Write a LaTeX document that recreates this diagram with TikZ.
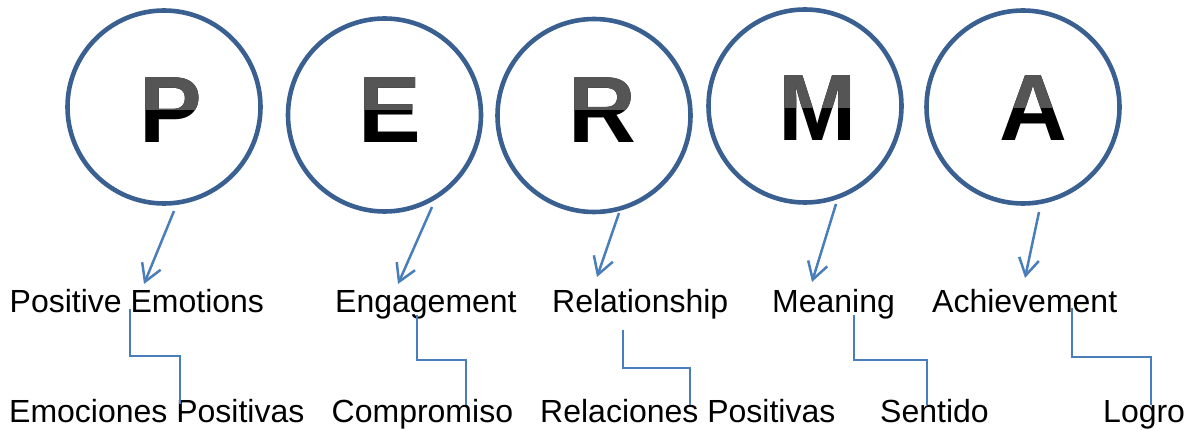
\documentclass[tikz,border=0pt]{standalone}
\usepackage{fontspec}
\setmainfont{Liberation Sans}
\usetikzlibrary{arrows.meta}
\definecolor{ringblue}{HTML}{3A6091}
\definecolor{lineblue}{HTML}{4A7EBB}
\definecolor{topgray}{HTML}{555555}
\newcommand\permaletter[4]{%
  \node[bigletter, text=black] (#1) at (#2,#3) {#4};
  \begin{scope}
    \clip (#2-70,#3-33.8) rectangle (#2+70,#3-110);
    \node[bigletter, text=topgray] (#1g) at (#2,#3) {#4};
  \end{scope}}
\begin{document}
\begin{tikzpicture}[x=1pt,y=-1pt,
  ring/.style={circle, draw=ringblue, line width=4.6pt, minimum size=193pt, inner sep=0pt},
  bigletter/.style={inner sep=0pt, anchor=base, font=\fontsize{94}{100}\selectfont\bfseries},
  label/.style={inner sep=0pt, anchor=base west, font=\fontsize{32}{38}\selectfont},
  arr/.style={draw=lineblue, line width=2.5pt, -{Straight Barb[length=17pt,width=20pt]}},
  elbow/.style={draw=lineblue, line width=2pt}]
\useasboundingbox (0,0) rectangle (1196,430);
% circles
\node[ring] (cP) at (164,107) {};
\node[ring] (cE) at (384.5,115) {};
\node[ring] (cR) at (594,115.5) {};
\node[ring] (cM) at (805,106) {};
\node[ring] (cA) at (1023,107) {};
% letters
\permaletter{tP}{171}{143}{P}
\permaletter{tE}{390}{143}{E}
\permaletter{tR}{602}{143}{R}
\permaletter{tM}{818}{141}{M}
\permaletter{tA}{1033}{141}{A}
% english labels
\node[label] (lP) at (9.5,312) {Positive Emotions};
\node[label] (lE) at (335,312) {Engagement};
\node[label] (lR) at (552,312) {Relationship};
\node[label] (lM) at (772,312) {Meaning};
\node[label] (lA) at (932,312) {Achievement};
% spanish labels
\node[label] (sP) at (9,422) {Emociones Positivas};
\node[label] (sE) at (331.5,422) {Compromiso};
\node[label] (sR) at (540,422) {Relaciones Positivas};
\node[label] (sM) at (880,422) {Sentido};
\node[label] (sA) at (1103,422) {Logro};
% arrow ends
\coordinate (aPs) at (174,211); \coordinate (aPt) at (144,284);
\coordinate (aEs) at (432,207); \coordinate (aEt) at (398,284);
\coordinate (aRs) at (619,213); \coordinate (aRt) at (597,277);
\coordinate (aMs) at (836,204); \coordinate (aMt) at (812,282);
\coordinate (aAs) at (1039,212); \coordinate (aAt) at (1025,278);
\draw[arr] (aPs) -- (aPt);
\draw[arr] (aEs) -- (aEt);
\draw[arr] (aRs) -- (aRt);
\draw[arr] (aMs) -- (aMt);
\draw[arr] (aAs) -- (aAt);
% elbow connectors
\coordinate (ePs) at (130,309); \coordinate (ePt) at (180,404);
\coordinate (eEs) at (417,315); \coordinate (eEt) at (466,405);
\coordinate (eRs) at (623,330); \coordinate (eRt) at (690,405);
\coordinate (eMs) at (854,315); \coordinate (eMt) at (927,405);
\coordinate (eAs) at (1072,308); \coordinate (eAt) at (1151,405);
\draw[elbow] (ePs) -- (130,356) -| (ePt);
\draw[elbow] (eEs) -- (417,360) -| (eEt);
\draw[elbow] (eRs) -- (623,368) -| (eRt);
\draw[elbow] (eMs) -- (854,360) -| (eMt);
\draw[elbow] (eAs) -- (1072,357) -| (eAt);
\end{tikzpicture}
\end{document}
